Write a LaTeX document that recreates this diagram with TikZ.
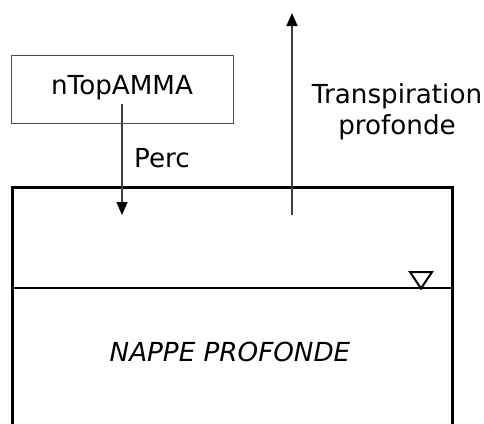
\documentclass[tikz,border=0pt]{standalone}
\usepackage{fontspec}
\setmainfont{DejaVu Sans}
\usetikzlibrary{arrows.meta}
\begin{document}
\begin{tikzpicture}[x=1pt,y=-1pt,
  lbl/.style={font=\fontsize{26.2}{31}\selectfont, inner sep=0pt},
  flux/.style={draw=black!75, line width=1.4pt, -{Triangle[length=13pt,width=11pt,black]}},
  storebox/.style={draw=black!70, line width=1pt, minimum width=222pt, minimum height=68pt, inner sep=0pt},
  wall/.style={draw=black, line width=3pt},
  level/.style={draw=black, line width=1.5pt}]
  \clip (0,0) rectangle (484,423);
  \fill[white] (0,0) rectangle (484,423);

  % upper store
  \node[storebox] (ntbox) at (122,89) {};
  \node[lbl] (ntlabel) at (122,88) {nTopAMMA};

  % deep groundwater reservoir (open at the bottom)
  \draw[wall] (12,430) -- (12,187) -- (452,187) -- (452,430);
  \coordinate (lvlL) at (12,288);
  \coordinate (lvlR) at (452,288);
  \draw[level] (lvlL) -- (lvlR);
  \draw[line width=2pt, line join=miter] (410,272) -- (432,272) -- (421,288.5) -- cycle;
  \node[lbl, font=\fontsize{26.2}{31}\selectfont\itshape] (nappe) at (230,352) {NAPPE PROFONDE};

  % fluxes
  \coordinate (percfrom) at (122,104);
  \coordinate (percto) at (122,215);
  \draw[flux] (percfrom) -- (percto);
  \node[lbl, anchor=west] (perc) at (134,158) {Perc};

  \coordinate (trfrom) at (292,215);
  \coordinate (trto) at (292,13);
  \draw[flux] (trfrom) -- (trto);
  \node[lbl, align=center] (transp) at (397,112) {Transpiration\\profonde};
\end{tikzpicture}
\end{document}
